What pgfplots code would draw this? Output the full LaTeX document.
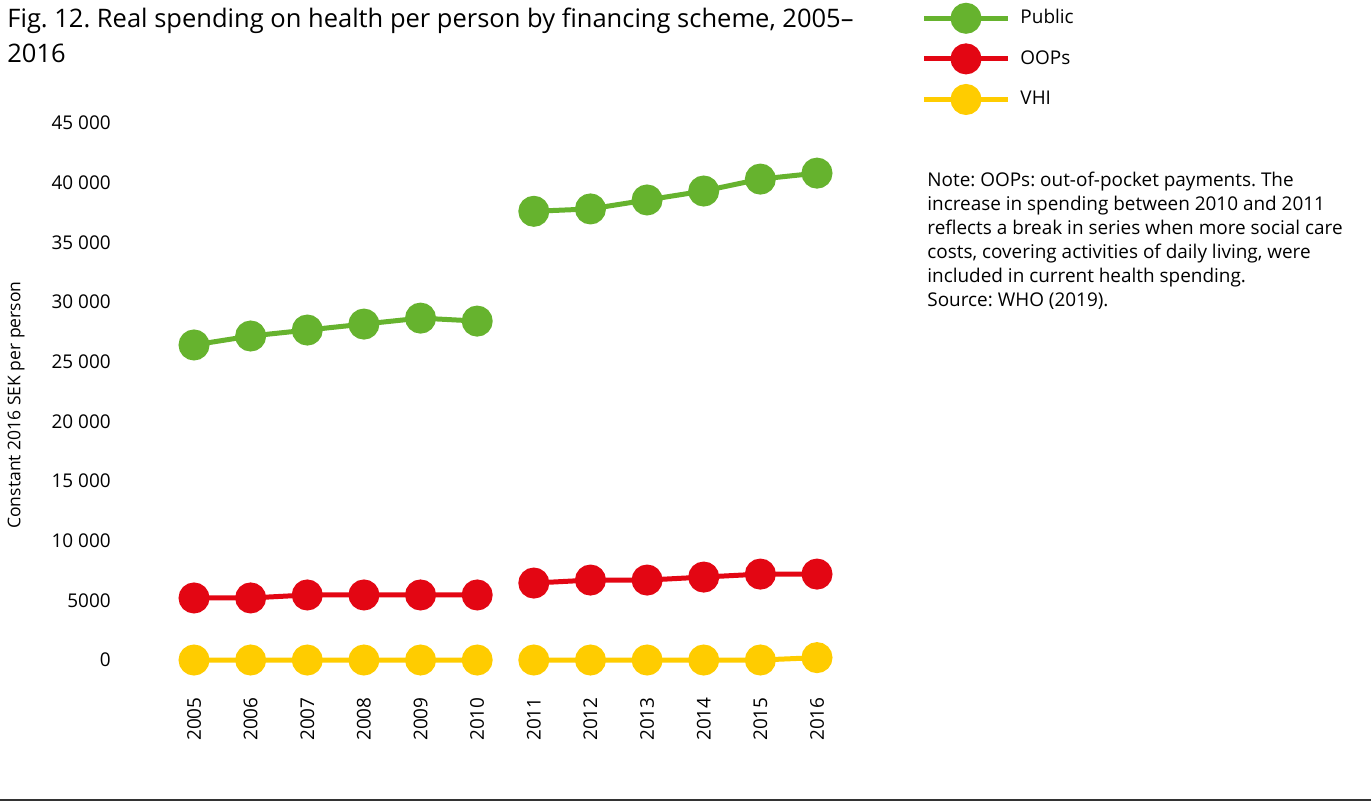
\documentclass[border=0pt]{standalone}
\usepackage{pgfplots}
\pgfplotsset{compat=1.18}
\usepackage{fontspec}
\setmainfont{Open Sans}
\definecolor{cpublic}{HTML}{66B32E}
\definecolor{coops}{HTML}{E30613}
\definecolor{cvhi}{HTML}{FFCC00}
\frenchspacing

\begin{document}
\begin{tikzpicture}[x=0.5bp,y=-0.5bp]
\coordinate (o) at (165.7,660);
\begin{axis}[
  at={(o)}, anchor=south west,
  scale only axis, width=339.8bp, height=268.5bp,
  xmin=2004.5, xmax=2016.5, ymin=0, ymax=45000,
  clip=false,
  axis line style={draw=none},
  major tick length=0pt,
  scaled y ticks=false,
  xtick={2005,2006,2007,2008,2009,2010,2011,2012,2013,2014,2015,2016},
  xticklabels={2005,2006,2007,2008,2009,2010,2011,2012,2013,2014,2015,2016},
  ytick={0,5000,10000,15000,20000,25000,30000,35000,40000,45000},
  yticklabels={0,5000,10 000,15 000,20 000,25 000,30 000,35 000,40 000,45 000},
  ticklabel style={font=\fontsize{9.5}{11}\selectfont, inner sep=0pt},
  yticklabel style={anchor=east, xshift=-27.3bp},
  xticklabel style={rotate=90, anchor=east, xshift=-18.5bp},
  unbounded coords=jump,
  every axis plot/.append style={line width=2.5bp, mark=*, mark size=6.5bp},
  legend style={at={(axis description cs:1.1115,1.22)}, anchor=north west,
    draw=none, fill=none, inner sep=0pt, row sep=7.3bp, column sep=3bp,
    font=\fontsize{9.5}{11}\selectfont},
  legend cell align=left,
  legend image code/.code={\draw[mark repeat=2,mark phase=2] plot coordinates {(0bp,0bp)(21bp,0bp)(42bp,0bp)};},
]
\addplot[cpublic, mark options={fill=cpublic, draw=none}] coordinates {
  (2005,26400)(2006,27150)(2007,27650)(2008,28150)(2009,28650)(2010,28400)
  (2010.5,nan)
  (2011,37600)(2012,37800)(2013,38550)(2014,39300)(2015,40300)(2016,40800)};
\addplot[coops, mark options={fill=coops, draw=none}] coordinates {
  (2005,5200)(2006,5200)(2007,5450)(2008,5450)(2009,5450)(2010,5450)
  (2010.5,nan)
  (2011,6450)(2012,6700)(2013,6700)(2014,6950)(2015,7200)(2016,7200)};
\addplot[cvhi, mark options={fill=cvhi, draw=none}] coordinates {
  (2005,0)(2006,0)(2007,0)(2008,0)(2009,0)(2010,0)
  (2010.5,nan)
  (2011,0)(2012,0)(2013,0)(2014,0)(2015,0)(2016,200)};
\legend{Public, OOPs, VHI}
\end{axis}
\node[anchor=north west, inner sep=0pt, align=left, font=\fontsize{12.8}{17.5}\selectfont] at (7,8)
  {Fig. 12. Real spending on health per person by financing scheme, 2005--\\2016};
\node[rotate=90, inner sep=0pt, font=\fontsize{8.8}{10}\selectfont] at (16,405) {Constant 2016 SEK per person};
\node[anchor=north west, inner sep=0pt, align=left, font=\fontsize{9.5}{12}\selectfont] at (927,172)
  {Note: OOPs: out-of-pocket payments. The\\
   increase in spending between 2010 and 2011\\
   reflects a break in series when more social care\\
   costs, covering activities of daily living, were\\
   included in current health spending.\\
   Source: WHO (2019).};
\draw[line width=0.6bp, black!80] (0,800) -- (1371,800);
\pgfresetboundingbox
\useasboundingbox (0,0) rectangle (1371,803);
\end{tikzpicture}
\end{document}
